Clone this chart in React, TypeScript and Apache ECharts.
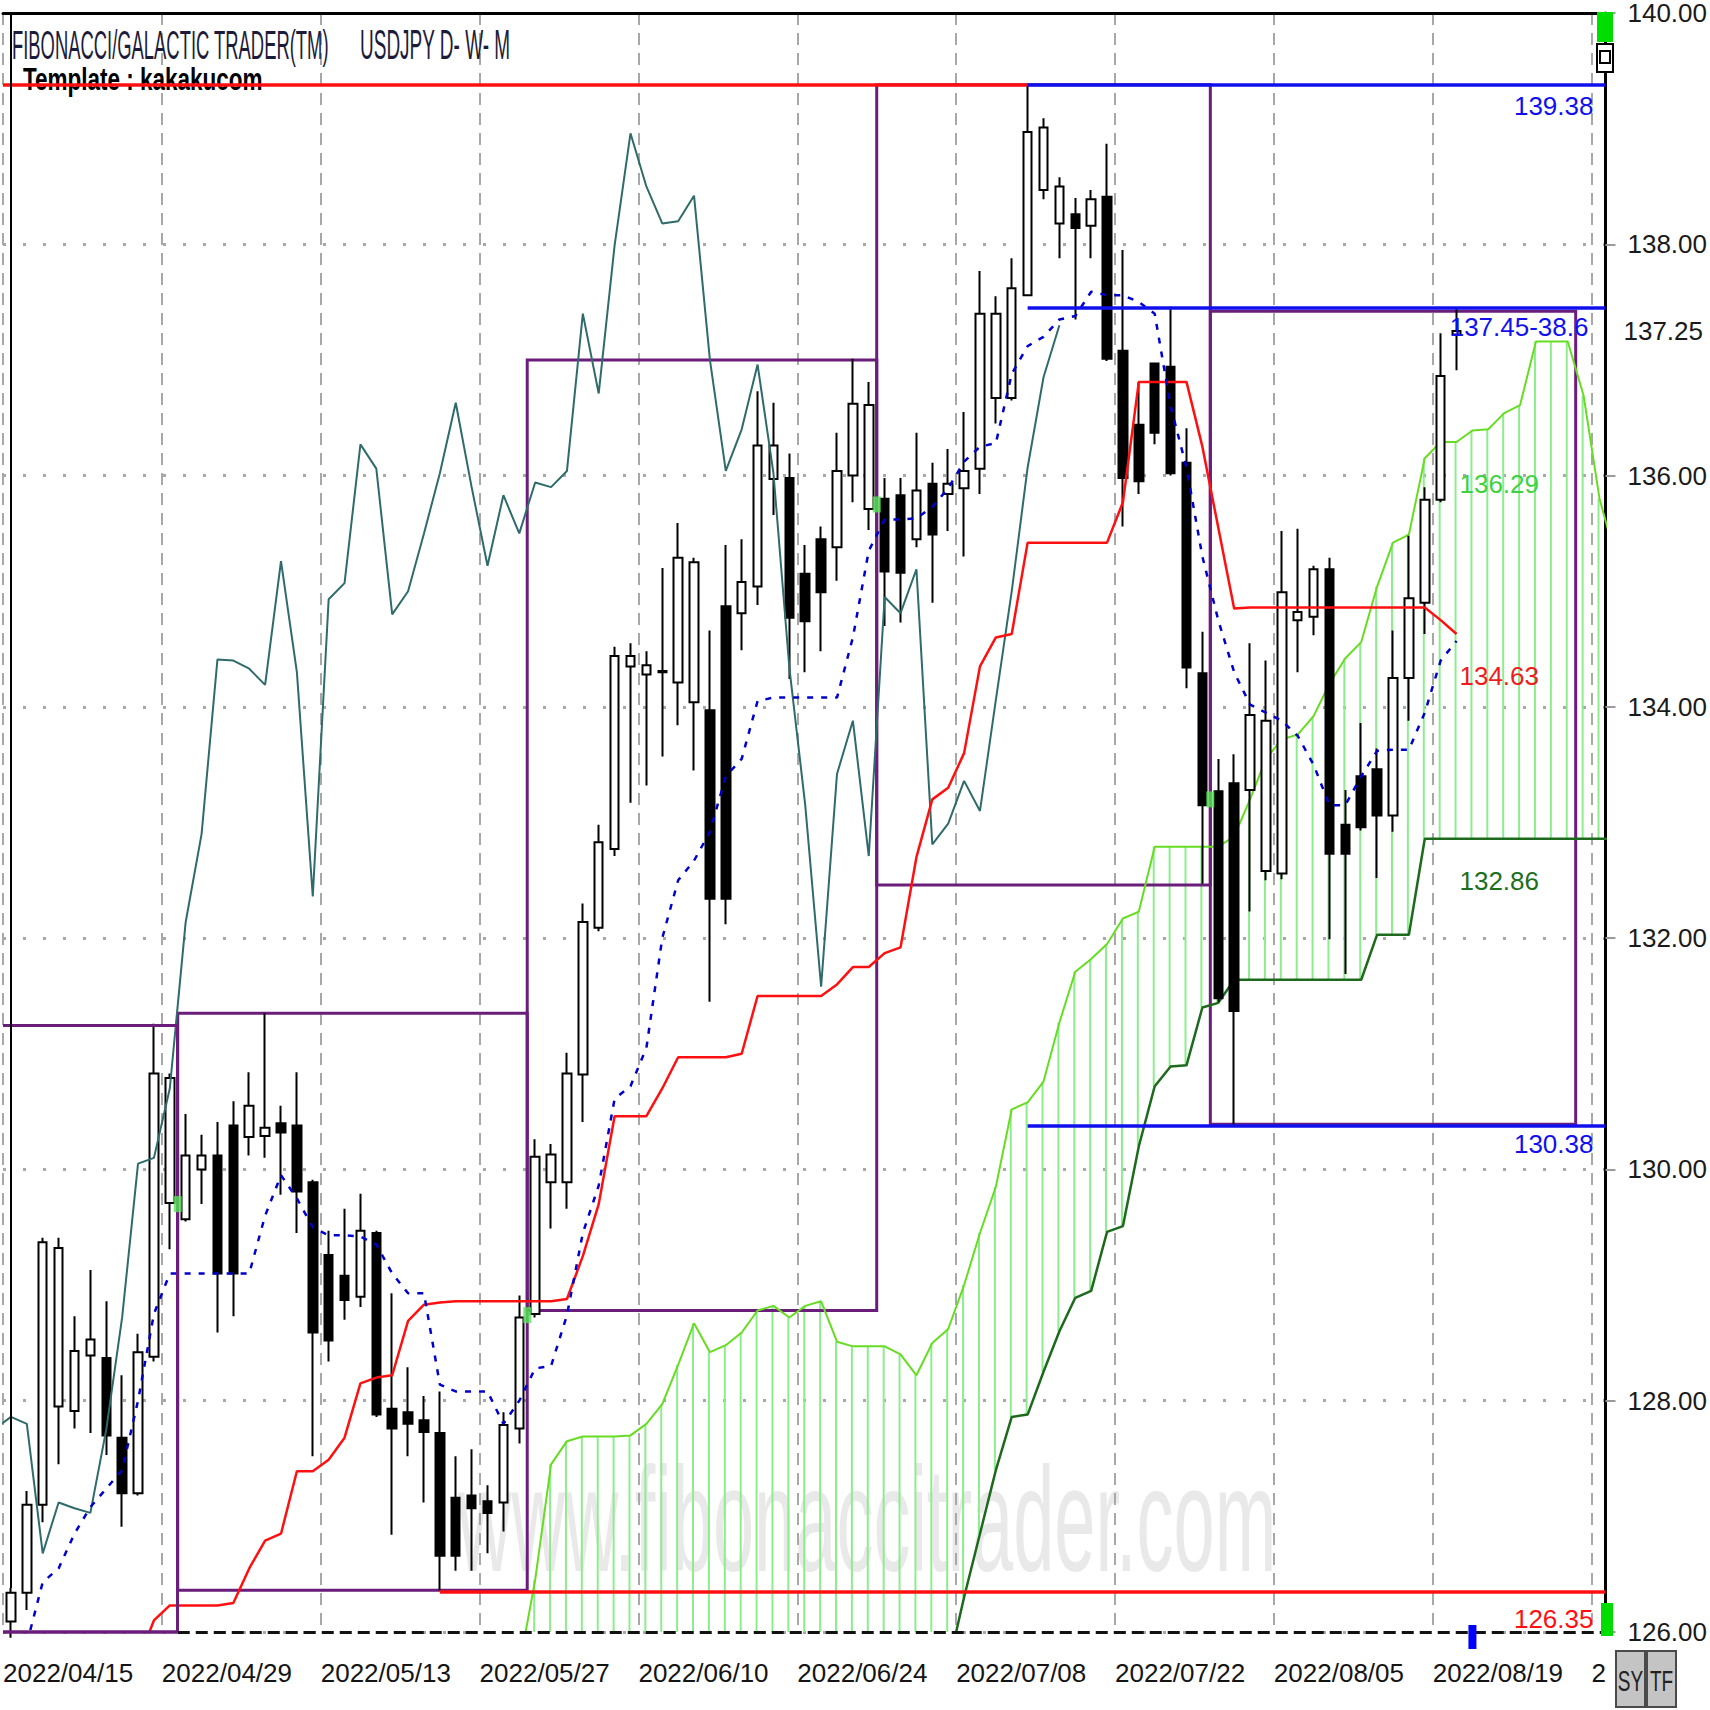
import React, { useEffect, useRef } from "react";
import * as echarts from "echarts";

// ---------------- data ----------------
const tickDates = [
  "2022/04/15", "2022/04/29", "2022/05/13", "2022/05/27", "2022/06/10", "2022/06/24",
  "2022/07/08", "2022/07/22", "2022/08/05", "2022/08/19", "2022/09/02",
];

// daily candles, bar 0 = 2022/04/15 ... bar 91 = 2022/08/22
const open = [
  126.09, 126.34, 127.10, 127.95, 127.91, 128.39, 128.37, 127.68, 127.20, 128.38,
  129.71, 129.57, 130.00, 130.12, 130.38, 130.28, 130.29, 130.40, 130.38, 129.89,
  129.26, 129.08, 128.90, 129.45, 127.93, 127.90, 127.83, 127.72, 127.16, 127.18,
  127.13, 127.12, 127.76, 128.75, 129.89, 129.89, 130.82, 132.09, 132.77, 134.35,
  134.28, 134.30, 134.21, 134.04, 133.97, 134.87, 134.81, 135.04, 135.97, 135.98,
  135.15, 135.45, 135.38, 136.00, 135.71, 135.80, 135.83, 135.45, 135.93, 135.84,
  135.89, 136.06, 136.67, 136.67, 137.56, 138.47, 138.18, 138.26, 138.16, 138.41,
  137.08, 136.44, 136.97, 136.94, 136.11, 134.29, 133.27, 133.34, 133.28, 132.58,
  132.56, 134.75, 134.78, 135.19, 132.98, 133.40, 133.46, 133.06, 134.25, 134.90,
  135.79, 137.22,
];
const high = [
  126.38, 127.22, 129.41, 129.41, 128.73, 129.13, 128.86, 128.22, 128.58, 131.26,
  130.83, 130.48, 130.30, 130.41, 130.59, 130.84, 131.35, 130.55, 130.84, 129.91,
  129.47, 129.66, 129.79, 129.47, 128.93, 128.29, 128.04, 128.08, 127.52, 127.58,
  127.27, 127.90, 128.91, 130.26, 130.22, 131.01, 132.30, 132.98, 134.52, 134.55,
  134.48, 135.20, 135.59, 135.29, 134.66, 135.40, 135.45, 136.73, 136.63, 136.19,
  135.40, 135.56, 136.37, 137.01, 136.81, 135.98, 135.98, 136.37, 136.11, 136.23,
  136.55, 137.77, 137.55, 137.88, 139.38, 139.09, 138.58, 138.40, 138.47, 138.87,
  137.95, 136.81, 136.97, 137.46, 136.41, 134.65, 133.55, 133.59, 134.55, 134.40,
  135.52, 135.54, 135.22, 135.29, 133.28, 133.86, 133.64, 134.66, 135.48, 135.90,
  137.23, 137.45,
];
const low = [
  125.95, 126.19, 126.95, 127.45, 127.76, 127.72, 127.53, 126.91, 127.18, 128.34,
  129.31, 129.55, 129.70, 128.59, 128.73, 130.12, 130.10, 129.78, 129.45, 127.52,
  128.34, 128.70, 128.81, 127.86, 126.84, 127.52, 127.12, 126.36, 126.53, 126.53,
  126.68, 126.87, 127.63, 128.72, 129.49, 129.66, 130.41, 132.06, 132.71, 133.17,
  133.32, 133.57, 133.84, 133.45, 131.45, 132.12, 134.49, 134.88, 135.66, 134.24,
  134.30, 134.48, 135.09, 135.77, 135.53, 134.70, 134.73, 135.38, 134.90, 135.52,
  135.30, 135.84, 136.45, 136.65, 137.55, 138.39, 137.88, 137.35, 137.88, 136.99,
  135.56, 135.84, 136.27, 136.00, 134.16, 132.47, 131.45, 130.39, 132.23, 132.50,
  132.51, 134.30, 134.62, 131.99, 131.69, 132.93, 132.52, 132.92, 133.88, 134.63,
  135.77, 136.91,
];
const close = [
  126.34, 127.10, 129.37, 129.32, 128.43, 128.53, 127.70, 127.20, 128.42, 130.83,
  130.79, 130.12, 130.12, 129.10, 129.10, 130.55, 130.36, 130.32, 129.81, 128.59,
  128.52, 128.87, 129.47, 127.88, 127.76, 127.80, 127.73, 126.66, 126.66, 127.07,
  127.03, 127.79, 128.72, 130.11, 130.13, 130.83, 132.14, 132.83, 134.44, 134.44,
  134.36, 134.31, 135.29, 135.25, 132.34, 132.34, 135.08, 136.26, 136.26, 134.77,
  134.74, 134.99, 136.04, 136.62, 136.61, 135.17, 135.16, 135.87, 135.49, 135.93,
  136.04, 137.40, 137.40, 137.62, 138.97, 139.01, 138.50, 138.14, 138.39, 137.01,
  135.98, 135.95, 136.37, 136.02, 134.34, 133.15, 131.48, 131.37, 133.93, 133.88,
  134.99, 134.82, 135.19, 132.73, 132.73, 132.96, 133.06, 134.25, 134.94, 135.79,
  136.86, 137.25,
];

// Ichimoku lines, each starting at the given bar index
const tenkanFirstBar = 1;
const tenkan = [
  125.90, 126.43, 126.55, 126.85, 127.08, 127.24, 127.40, 128.00, 128.75,
  129.10, 129.10, 129.10, 129.10, 129.10, 129.10, 129.60, 129.95, 129.75, 129.50,
  129.43, 129.43, 129.42, 129.35, 129.10, 128.93, 128.93, 128.14, 128.08, 128.08,
  128.08, 127.80, 128.00, 128.28, 128.30, 128.74, 129.45, 129.86, 130.61, 130.72,
  131.05, 132.00, 132.50, 132.67, 132.92, 133.40, 133.55, 134.05, 134.08, 134.08,
  134.08, 134.08, 134.08, 134.60, 135.35, 135.62, 135.62, 135.63, 135.73, 135.89,
  136.12, 136.25, 136.28, 136.88, 137.12, 137.20, 137.35, 137.38, 137.59, 137.56,
  137.56, 137.50, 137.40, 136.60, 136.07, 135.30, 134.75, 134.30, 134.02, 133.95,
  133.88, 133.75, 133.50, 133.15, 133.15, 133.40, 133.62, 133.63, 133.63, 133.95,
  134.40, 134.57,
];
const kijunFirstBar = 8;
const kijun = [
  125.75, 126.10,
  126.23, 126.23, 126.23, 126.23, 126.25, 126.55, 126.79, 126.85, 127.39, 127.39,
  127.49, 127.68, 128.15, 128.20, 128.22, 128.69, 128.83, 128.85, 128.86, 128.86,
  128.86, 128.86, 128.86, 128.86, 128.86, 128.88, 129.25, 129.70, 130.46, 130.46,
  130.46, 130.70, 130.97, 130.97, 130.97, 130.97, 131.00, 131.50, 131.50, 131.50,
  131.50, 131.50, 131.60, 131.75, 131.75, 131.87, 131.92, 132.70, 133.20, 133.30,
  133.60, 134.35, 134.60, 134.63, 135.42, 135.42, 135.42, 135.42, 135.42, 135.42,
  135.77, 136.81, 136.81, 136.81, 136.81, 136.25, 135.55, 134.85, 134.86, 134.86,
  134.86, 134.86, 134.86, 134.86, 134.86, 134.86, 134.86, 134.86, 134.86, 134.86,
  134.75, 134.63,
];
const chikouFirstBar = -1;
const chikou = [
  127.76,
  127.86, 127.80, 126.68, 127.12, 127.07, 127.03, 127.75, 128.72, 130.05, 130.10,
  130.70, 132.14, 132.90, 134.41, 134.40, 134.33, 134.19, 135.26, 134.30, 132.36,
  134.93, 135.07, 136.27, 136.06, 134.80, 135.00, 135.50, 136.02, 136.63, 135.90,
  135.22, 135.83, 135.50, 135.94, 135.90, 136.04, 137.40, 136.71, 137.99, 138.96,
  138.50, 138.18, 138.20, 138.42, 137.00, 136.04, 136.40, 136.96, 136.02, 134.34,
  133.15, 131.58, 133.42, 133.88, 132.71, 134.95, 134.81, 135.19, 132.81, 132.99,
  133.36, 133.10, 134.06, 135.00, 136.07, 136.85, 137.30,
];
const senkouAFirstBar = 32;
const senkouA = [
  125.70, 126.45, 127.45, 127.65, 127.69, 127.69, 127.69, 127.70,
  127.80, 127.97, 128.31, 128.67, 128.42, 128.48, 128.59, 128.78, 128.82, 128.72,
  128.82, 128.86, 128.51, 128.47, 128.47, 128.47, 128.40, 128.22, 128.50, 128.62,
  129.00, 129.45, 129.85, 130.52, 130.58, 130.76, 131.27, 131.71, 131.82, 131.95,
  132.17, 132.23, 132.79, 132.79, 132.79, 132.79, 132.79, 132.88, 133.20, 133.55,
  133.72, 133.76, 133.92, 134.20, 134.42, 134.56, 135.04, 135.42, 135.49, 136.15,
  136.29, 136.29, 136.39, 136.40, 136.54, 136.61, 137.16, 137.16, 137.16, 136.69,
  135.80, 135.30,
];
const senkouBFirstBar = 59;
const senkouB = [
  125.70,
  126.30, 126.85, 127.40, 127.86, 127.88, 128.25, 128.60, 128.89, 128.95, 129.46,
  129.51, 130.20, 130.72, 130.89, 130.90, 131.40, 131.44, 131.64, 131.64, 131.64,
  131.64, 131.64, 131.64, 131.64, 131.64, 131.64, 132.03, 132.03, 132.03, 132.86,
  132.86, 132.86, 132.86, 132.86, 132.86, 132.86, 132.86, 132.86, 132.86, 132.86,
  132.86, 132.86,
];

// monthly range boxes (first / last bar of each month); April starts off-chart
const monthFirstBar = [0, 11, 33, 55, 76];
const monthLastBar = [10, 32, 54, 75, 98];
const monthHigh = [131.25, 131.35, 137.0, 139.38, 137.42];
const monthLow = [126.0, 126.36, 128.78, 132.46, 130.39];
const monthOpen = [null, 129.7, 128.74, 135.75, 133.2];

// swing levels
const swingHigh = 139.38;
const swingHighBar = 64;
const swingLow = 126.35;
const swingLowBar = 27;
const retraceLevels = [137.45, 130.38];
const retraceLabels = ["137.45-38.6", "130.38"];
const lastPrice = 137.25;
const currentBar = 92;
const cloudLabelBar = 92;
const cloudLabels = [
  { text: "136.29", value: 136.29, color: "#3fd23f" },
  { text: "134.63", value: 134.63, color: "#ee1c1c" },
  { text: "132.86", value: 132.86, color: "#1d6e1d" },
];

// ---------------- chart ----------------
const X_MAX = 100.875;
const FONT = "'Liberation Sans', Arial, sans-serif";
const NARROW = "'Liberation Sans Narrow', 'Liberation Sans', Arial, sans-serif";
const PURPLE = "#6b1d7b";
const BLUE = "#1010ee";
const RED = "#ff1010";

const V = (bar: number) => bar + 0.5;
const series = (arr: number[], first: number) => arr.map((p, k) => [V(first + k), p]);

function buildOption() {
  const candleData = open.map((o, i) => [V(i), o, close[i], low[i], high[i]]);

  const hatch: any[] = [];
  for (let i = senkouAFirstBar + 1; i < senkouAFirstBar + senkouA.length - 1; i++) {
    const a = senkouA[i - senkouAFirstBar];
    const b = i >= senkouBFirstBar ? senkouB[i - senkouBFirstBar] : null;
    hatch.push([V(i), a, b]);
  }

  const solid = (color: string, width: number) => ({ color, width, type: "solid" });
  const labelStyle = (color: string) => ({
    show: true,
    position: "insideEndBottom",
    color,
    fontSize: 26,
    fontFamily: FONT,
  });

  // April box: only its top, right and bottom edges lie inside the chart
  const aprilRight = monthLastBar[0] + 1;
  const markLines: any[] = [
    [{ coord: [monthFirstBar[0], monthHigh[0]], lineStyle: solid(PURPLE, 3) }, { coord: [aprilRight, monthHigh[0]] }],
    [{ coord: [aprilRight, monthHigh[0]], lineStyle: solid(PURPLE, 3) }, { coord: [aprilRight, monthLow[0]] }],
    [{ coord: [monthFirstBar[0], monthLow[0]], lineStyle: solid(PURPLE, 3.5) }, { coord: [aprilRight, monthLow[0]] }],
    [
      { coord: [0, swingHigh], lineStyle: solid(RED, 3.5) },
      { coord: [V(swingHighBar), swingHigh] },
    ],
    [
      {
        coord: [V(swingHighBar), swingHigh],
        lineStyle: solid(BLUE, 3.5),
        label: { ...labelStyle(BLUE), formatter: swingHigh.toFixed(2), distance: [12, 8] },
      },
      { coord: [X_MAX, swingHigh] },
    ],
    ...retraceLevels.map((lv, k) => [
      {
        coord: [V(swingHighBar), lv],
        lineStyle: solid(BLUE, 3.5),
        label: { ...labelStyle(BLUE), formatter: retraceLabels[k], distance: [k === 0 ? 17 : 12, 6] },
      },
      { coord: [X_MAX, lv] },
    ]),
    [
      {
        coord: [V(swingLowBar), swingLow],
        lineStyle: solid(RED, 3.5),
        label: { ...labelStyle(RED), formatter: swingLow.toFixed(2), distance: [12, 14] },
      },
      { coord: [X_MAX, swingLow] },
    ],
    [
      { coord: [aprilRight, 126], lineStyle: { color: "#111", width: 3, type: [12, 6] } },
      { coord: [X_MAX, 126] },
    ],
    [
      { coord: [V(0), 140], lineStyle: solid("#000", 2) },
      { coord: [V(0), high[0]] },
    ],
    {
      yAxis: lastPrice,
      lineStyle: { color: "rgba(0,0,0,0)", width: 0, type: "solid" },
      label: {
        show: true,
        position: "end",
        formatter: lastPrice.toFixed(2),
        distance: 18,
        color: "#1a1a1a",
        fontSize: 26,
        fontFamily: NARROW,
      },
    },
  ];

  const markAreas = monthFirstBar.slice(1).map((f, j) => [
    { coord: [f, monthHigh[j + 1]] },
    { coord: [monthLastBar[j + 1] + 1, monthLow[j + 1]] },
  ]);

  const markPoints: any[] = cloudLabels.map((c) => ({
    coord: [cloudLabelBar, c.value],
    symbol: "rect",
    symbolSize: 1,
    itemStyle: { color: "rgba(0,0,0,0)" },
    label: {
      show: true,
      position: "inside",
      formatter: c.text,
      align: "left",
      verticalAlign: "middle",
      offset: [-5, 42],
      color: c.color,
      fontSize: 26,
      fontFamily: FONT,
    },
  }));
  markPoints.push({
    coord: [V(currentBar), 126],
    symbol: "rect",
    symbolSize: [8, 24],
    symbolOffset: [0, 5],
    itemStyle: { color: "#0000ff" },
    label: { show: false },
  });

  const openMarkers = monthOpen
    .map((p, k) => (p == null ? null : [monthFirstBar[k], p]))
    .filter((d) => d != null);

  return {
    animation: false,
    backgroundColor: "#ffffff",
    grid: { left: 0, right: 96, top: 12, bottom: 78 },
    xAxis: [
      {
        type: "value",
        min: 0,
        max: X_MAX,
        interval: 10,
        axisLine: { show: false, onZero: false },
        axisTick: { show: false },
        splitLine: { show: true, lineStyle: { color: "#a8a8a8", width: 2, type: [12, 8] } },
        axisLabel: {
          showMaxLabel: false,
          align: "left",
          margin: 28,
          fontSize: 26,
          fontFamily: NARROW,
          color: "#141414",
          formatter: (v: number) => {
            if (Math.abs(v % 10) > 1e-6) return "";
            const k = Math.round(v / 10);
            const lab = tickDates[k] || "";
            // the last date is cut off by the chart's right edge in the original
            return k === tickDates.length - 1 ? lab.slice(0, 1) : lab;
          },
        },
      },
      {
        type: "value",
        position: "top",
        min: 0,
        max: X_MAX,
        axisLine: { show: true, onZero: false, lineStyle: { color: "#000", width: 3 } },
        axisTick: { show: false },
        axisLabel: { show: false },
        splitLine: { show: false },
      },
    ],
    yAxis: {
      type: "value",
      position: "right",
      min: 126,
      max: 140,
      interval: 2,
      axisLine: { show: true, onZero: false, lineStyle: { color: "#000", width: 3 } },
      axisTick: { show: true, length: 10, lineStyle: { color: "#9a9a9a", width: 2 } },
      axisLabel: {
        margin: 22,
        fontSize: 26,
        fontFamily: NARROW,
        color: "#1a1a1a",
        formatter: (v: number) => v.toFixed(2),
      },
      splitLine: { show: true, lineStyle: { color: "#a8a8a8", width: 3, type: [3, 17] } },
    },
    graphic: [
      {
        type: "text",
        x: 458,
        y: 1520,
        scaleY: 2.0,
        z: 0,
        silent: true,
        style: {
          text: "www.fibonaccitrader.com",
          fontSize: 74,
          fontFamily: FONT,
          fill: "#e9e9e9",
          verticalAlign: "middle",
          align: "left",
        },
      },
      {
        type: "text",
        x: 12,
        y: 45,
        scaleY: 2.2,
        z: 1,
        style: {
          text: "FIBONACCI/GALACTIC TRADER(TM)",
          fontSize: 18.4,
          fontFamily: FONT,
          fill: "#1c1c3a",
          verticalAlign: "middle",
          align: "left",
        },
      },
      {
        type: "text",
        x: 360,
        y: 45,
        scaleY: 2.2,
        z: 1,
        style: {
          text: "USDJPY D- W- M",
          fontSize: 19,
          fontFamily: FONT,
          fill: "#1c1c3a",
          verticalAlign: "middle",
          align: "left",
        },
      },
      {
        type: "text",
        x: 23,
        y: 79,
        scaleY: 1.4,
        z: 1,
        style: {
          text: "Template : kakakucom",
          fontSize: 22.5,
          fontWeight: "bold",
          fontFamily: FONT,
          fill: "#000000",
          verticalAlign: "middle",
          align: "left",
        },
      },
      { type: "rect", z: 100, shape: { x: 1597, y: 12, width: 16, height: 30 }, style: { fill: "#00dd00" } },
      {
        type: "rect",
        z: 100,
        shape: { x: 1597, y: 44, width: 16, height: 28 },
        style: { fill: "#ffffff", stroke: "#000", lineWidth: 2 },
      },
      {
        type: "rect",
        z: 101,
        shape: { x: 1600, y: 51, width: 10, height: 12 },
        style: { fill: "#ffffff", stroke: "#000", lineWidth: 2 },
      },
      { type: "rect", z: 100, shape: { x: 1601, y: 1603, width: 12, height: 33 }, style: { fill: "#00dd00" } },
      {
        type: "group",
        z: 100,
        children: [
          {
            type: "rect",
            shape: { x: 1616, y: 1651, width: 29, height: 56 },
            style: { fill: "#c4c4c4", stroke: "#4a4a4a", lineWidth: 2 },
          },
          {
            type: "rect",
            shape: { x: 1647, y: 1651, width: 29, height: 56 },
            style: { fill: "#c4c4c4", stroke: "#4a4a4a", lineWidth: 2 },
          },
          {
            type: "text",
            x: 1630.5,
            y: 1680,
            scaleY: 1.6,
            style: { text: "SY", fontSize: 19, fontFamily: FONT, fill: "#222", align: "center", verticalAlign: "middle" },
          },
          {
            type: "text",
            x: 1661.5,
            y: 1680,
            scaleY: 1.6,
            style: { text: "TF", fontSize: 19, fontFamily: FONT, fill: "#222", align: "center", verticalAlign: "middle" },
          },
        ],
      },
    ],
    series: [
      {
        type: "custom",
        name: "cloud",
        z: 1,
        clip: true,
        silent: true,
        data: hatch,
        renderItem: (params: any, api: any) => {
          const cs = params.coordSys;
          const v = api.value(0);
          const a = api.value(1);
          const b = api.value(2);
          const pTop = api.coord([v, a]);
          const bottomLimit = cs.y + cs.height;
          let yB = isNaN(b) ? bottomLimit : api.coord([v, b])[1];
          yB = Math.min(yB, bottomLimit);
          const yA = Math.max(Math.min(pTop[1], bottomLimit), cs.y);
          return {
            type: "line",
            shape: { x1: pTop[0] - 1, y1: yA, x2: pTop[0] - 1, y2: yB },
            style: { stroke: "#8ded8d", lineWidth: 2 },
          };
        },
      },
      {
        type: "line",
        name: "senkouB",
        z: 2,
        data: series(senkouB, senkouBFirstBar),
        symbol: "none",
        silent: true,
        lineStyle: { color: "#1d6a1d", width: 2.5 },
      },
      {
        type: "line",
        name: "senkouA",
        z: 2,
        data: series(senkouA, senkouAFirstBar),
        symbol: "none",
        silent: true,
        lineStyle: { color: "#66dd22", width: 2 },
      },
      {
        type: "candlestick",
        name: "USDJPY",
        z: 3,
        data: candleData,
        barWidth: 9,
        silent: true,
        itemStyle: {
          color: "#ffffff",
          color0: "#000000",
          borderColor: "#000000",
          borderColor0: "#000000",
          borderWidth: 2,
        },
      },
      {
        type: "line",
        name: "chikou",
        z: 4,
        data: series(chikou, chikouFirstBar),
        symbol: "none",
        silent: true,
        lineStyle: { color: "#2f6b6b", width: 2 },
      },
      {
        type: "line",
        name: "kijun",
        z: 4,
        data: series(kijun, kijunFirstBar),
        symbol: "none",
        silent: true,
        lineStyle: { color: RED, width: 2.5 },
      },
      {
        type: "line",
        name: "tenkan",
        z: 4,
        data: series(tenkan, tenkanFirstBar),
        symbol: "none",
        silent: true,
        lineStyle: { color: "#0000cc", width: 2.5, type: [6, 8] },
      },
      {
        type: "scatter",
        name: "markers",
        z: 6,
        clip: false,
        silent: true,
        data: openMarkers,
        symbol: "rect",
        symbolSize: [8, 16],
        itemStyle: { color: "#55e655" },
        markArea: {
          silent: true,
          z: 2,
          label: { show: false },
          itemStyle: { color: "rgba(0,0,0,0)", borderColor: PURPLE, borderWidth: 3 },
          data: markAreas,
        },
        markLine: {
          silent: true,
          z: 5,
          symbol: ["none", "none"],
          label: { show: false },
          lineStyle: { type: "solid" },
          emphasis: { disabled: true },
          data: markLines,
        },
        markPoint: {
          silent: true,
          z: 7,
          data: markPoints,
        },
      },
    ],
  };
}

export default function App() {
  const ref = useRef<HTMLDivElement>(null);
  useEffect(() => {
    if (!ref.current) return;
    const chart = echarts.init(ref.current, null, { renderer: "svg" });
    chart.setOption(buildOption() as any);
    return () => chart.dispose();
  }, []);
  return (
    <div
      ref={ref}
      style={{ position: "absolute", left: 0, top: 0, width: 1710, height: 1710, background: "#ffffff" }}
    />
  );
}
